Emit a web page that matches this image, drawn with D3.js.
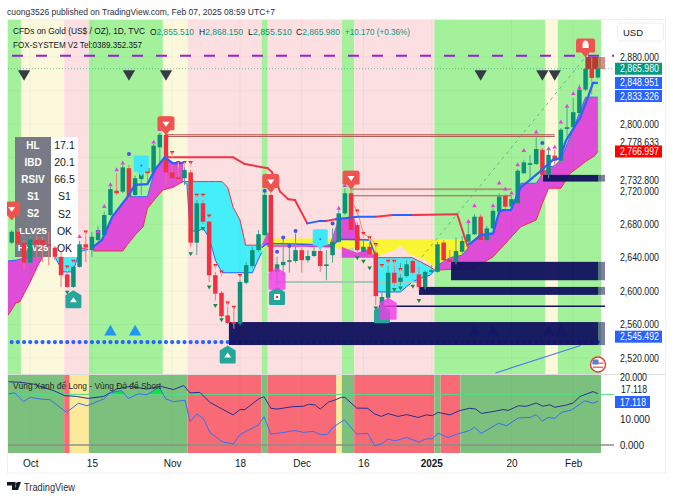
<!DOCTYPE html>
<html><head><meta charset="utf-8">
<script src="https://cdnjs.cloudflare.com/ajax/libs/d3/7.8.5/d3.min.js"></script>
<style>html,body{margin:0;padding:0;background:#fff}svg{display:block}text{font-family:"Liberation Sans",Arial,sans-serif}</style>
</head><body><svg id="c" width="673" height="499"></svg>
<script>
const opens=[2658,2671,2658,2634,2661,2661,2656,2652,2641,2620,2605,2629,2656,2649,2661,2667,2691,2720,2719,2747,2715,2734,2747,2742,2772,2787,2742,2736,2735,2742,2658,2705,2683,2619,2598,2571,2563,2561,2610,2630,2649,2667,2715,2623,2631,2635,2636,2649,2637,2642,2648,2630,2643,2659,2693,2717,2679,2647,2653,2646,2582,2592,2622,2611,2618,2636,2620,2605,2623,2623,2658,2638,2635,2647,2659,2668,2689,2661,2675,2695,2714,2701,2705,2741,2751,2752,2769,2739,2762,2756,2794,2796,2813,2841,2866,2855.51];
const closes=[2671,2656,2634,2662,2656,2655,2654,2641,2619,2605,2629,2656,2652,2665,2673,2691,2722,2717,2748,2713,2735,2746,2741,2774,2787,2742,2735,2734,2745,2658,2705,2683,2619,2597,2570,2562,2561,2611,2631,2649,2668,2715,2623,2632,2635,2637,2649,2637,2642,2648,2630,2632,2659,2693,2717,2673,2649,2653,2644,2594,2593,2622,2610,2616,2632,2622,2605,2623,2625,2656,2637,2635,2648,2660,2668,2689,2661,2675,2696,2713,2701,2710,2744,2754,2753,2770,2739,2763,2756,2793,2796,2814,2841,2866,2855,2865.98];
const highs=[2673,2675,2661,2666,2666,2665,2671,2654,2647,2623,2632,2660,2666,2671,2678,2695,2725,2741,2751,2751,2738,2748,2751,2776,2789,2789,2751,2753,2753,2745,2709,2709,2685,2623,2600,2581,2582,2614,2635,2653,2673,2719,2717,2641,2664,2655,2669,2652,2649,2658,2650,2649,2675,2697,2723,2726,2683,2661,2661,2649,2599,2631,2634,2634,2637,2638,2629,2625,2631,2659,2661,2649,2664,2666,2683,2692,2692,2678,2699,2717,2716,2713,2746,2757,2763,2784,2771,2769,2769,2795,2819,2831,2847,2882,2881,2868.15];
const lows=[2656,2654,2625,2632,2640,2635,2631,2637,2605,2604,2604,2628,2635,2641,2659,2665,2690,2715,2717,2709,2714,2715,2731,2741,2753,2727,2733,2731,2727,2653,2643,2680,2611,2589,2568,2561,2555,2559,2608,2628,2647,2666,2613,2607,2619,2622,2634,2622,2634,2641,2623,2613,2634,2658,2691,2671,2647,2644,2642,2583,2580,2586,2606,2607,2616,2620,2601,2602,2620,2622,2634,2632,2632,2644,2655,2667,2660,2660,2674,2693,2698,2690,2704,2740,2733,2751,2735,2735,2751,2754,2783,2772,2812,2839,2835,2854];

const mainEdges=[-0.6,1.5,8.5,12.5,24.5,28.5,40.5,41.5,53.5,55.5,68.5,86.5,88.5,95.5];
const mainKinds=["g","c","p","g","c","p","g","p","g","p","g","c","g"];
const subEdges=[-0.6,8.5,9.4,12.5,28.5,40.5,41.5,52.6,53.5,55.5,68.5,69.5,72.7,95.5];
const subKinds=["g","r","y","g","r","g","r","y","g","r","g","r","g"];

const priceTicks=[2880,2800,2778.633,2732.8,2720,2680,2640,2600,2560,2520];
const gridPrices=[2880,2840,2800,2760,2720,2680,2640,2600,2560,2520];
const timeTicks=[3,13,26,37,47,57,68,81,91];
const timeLabels=["Oct","15","Nov","18","Dec","16","2025","20","Feb"];
const badgeValues=[2865.98,2848.951,2833.326,2766.997,2545.492];
const badgeKinds=["up","line","line","down","line"];

// [index, upper, lower]
const magentaLeft=[[-0.6,2636,2571],[0.7,2637,2586],[1.3,2638,2587],[3,2641,2611],[4.2,2644,2630],[5,2650,2641],[5.6,2644,2644]];
const cyanLeft=[[7,2650,2641],[8.3,2652,2623],[9.9,2652,2623],[11,2652,2647],[12.4,2650,2650]];
const magentaMain=[[13.2,2653,2648],[14.6,2661,2648],[16.3,2689,2648],[18,2705,2648],[18.8,2713,2656],[20,2713,2667],[21.3,2713,2677],[22,2713,2699],[23.2,2745,2710],[24.5,2758,2721],[26.1,2753,2724],[27.8,2753,2731]];
const cyanMid=[[27.8,2731,2731],[28.4,2731,2728],[28.9,2731,2673],[30,2731,2671],[31,2731,2675],[32,2731,2664],[33,2731,2637],[34.1,2731,2622],[35,2724,2622],[35.9,2700,2622],[37,2685,2622],[37.9,2655,2622],[39,2655,2622],[39.9,2655,2637],[40.5,2655,2646]];
const yellowBand=[[37.9,2642,2637],[39.5,2652,2640],[40.5,2655,2649],[41.5,2663,2655],[52,2663,2655],[53.5,2662,2649],[56,2662,2653],[59,2662,2641],[62,2662,2649],[63,2662,2654],[64.5,2662,2644],[67,2662,2637],[68.6,2662,2629],[71,2662,2640],[73,2662,2643],[74.5,2661,2655]];
const magentaSmall=[[40.5,2655,2655],[41.5,2671,2655],[42.4,2660,2655]];
const magentaKnee=[[51.5,2655,2655],[53,2688,2661],[55.5,2688,2661],[56.5,2662,2661]];
const magentaLow=[[53.5,2653,2640],[54.5,2650,2640],[56,2646,2640],[57.5,2650,2640],[59,2641,2640]];
const cyanLow=[[59,2640,2640],[59.3,2640,2599],[63,2640,2599],[64.9,2640,2611],[66.5,2634,2616],[67.8,2629,2619],[68.6,2625,2625]];
const magentaRight=[[68.6,2629,2625],[71,2640,2626],[73,2643,2626],[75,2661,2626],[76,2667,2632],[78,2669,2641],[79,2695,2649],[80.5,2697,2661],[81,2697,2665],[82.5,2729,2677],[85,2729,2685],[86,2740,2705],[87,2748,2723],[88,2750,2723],[89,2757,2723],[90.5,2785,2741],[92,2813,2749],[93,2832,2755],[94.5,2832,2762],[95,2832,2767]];

// [index, price]
const fastLineA=[[13.2,2653],[14.6,2661],[16.3,2689],[18.8,2713],[20,2727],[22,2728],[23.2,2745],[24.8,2760],[26.1,2753],[27.8,2753]];
const fastLineB=[[73.9,2655],[75,2661],[76,2667],[78,2669],[79,2695],[79.6,2697],[80.9,2697],[82.5,2724],[84,2733],[85.3,2741],[87.7,2757],[88.9,2759],[89.8,2780],[92.1,2807],[93.4,2832],[94.2,2849],[95,2849]];
const midLine=[[40.5,2652],[41.4,2657],[47.2,2656],[52,2655],[53.2,2662],[58,2661],[59,2641]];
const pinkLine=[[41.4,2654],[47.2,2654],[52,2653]];
// [index, price, direction]
const trendLine=[[25,2760,-1],[35.9,2760,-1],[37.8,2752,-1],[41.5,2747,-1],[42.2,2742,-1],[43.5,2719,-1],[44.8,2710,-1],[45.9,2709,-1],[47.9,2681,-1],[50,2684,1],[51,2684,1],[52.5,2686,-1],[56,2689,1],[59,2689,1],[61.8,2691,-1],[65,2691,1],[72.2,2692,-1],[73.9,2653,-1]];

const bullMarks=[[11,2665],[14,2671],[15,2701],[16,2727],[17,2745],[18,2753],[23,2778],[24,2793],[53,2699],[54,2726],[74,2683],[75,2702],[78,2702],[79,2729],[80,2722],[81,2717],[82,2751],[83,2768],[85,2790],[87,2770],[88,2772],[89,2802],[90,2821],[91,2836],[92,2843]];
const bearMarks=[[9,2629],[10,2636],[12,2671],[26,2766],[27,2754],[28,2754],[29,2754],[30,2715],[31,2715],[32,2690],[33,2631],[34,2623],[35,2586],[36,2581],[37,2619],[56,2696],[57,2669],[58,2664],[59,2656],[60,2631],[61,2636],[62,2636],[63,2626]];
const lowMarks=[[9,2599],[29,2645],[31,2675],[32,2605],[33,2583],[34,2566],[56,2640],[57,2636],[58,2628],[59,2580],[62,2602],[63,2604],[65,2606],[66,2589]];
const dotMarks=[[19,2764],[41,2720],[43,2647],[44,2664],[45,2654],[46,2672],[52,2681],[86,2777]];
const zigzag=[[54.9,2709],[56,2696],[57,2669],[58,2664],[59,2656]];

const upArrows=[[16,2550],[20,2550],[75,2550],[78,2550],[87,2550],[89,2550]];
const downArrows=[[2,2866],[19,2866],[25,2866],[76,2866],[86,2866],[88,2866]];
const supportDots=d3.range(0,96);
const supportLevel=2539;

const redFlags=[[0,2685],[25,2787],[42,2718],[55,2722],[93,2880]];
const tealFlags=[[10,2601],[35,2535],[43,2605],[60,2583]];
const pinkFlags=[[43,2628],[61,2592]];
const cyanFlags=[[21,2737],[50,2649]];

// [startIndex, top, bottom]
const zoneBoxes=[[35.2,2563,2535.5],[71.2,2635,2613],[66,2605,2595.5],[86.1,2739,2731]];
const zoneRed=[[93,2880,2865.5]];
const thinZone=[[59.5,2582]];
const brownLines=[[25,2787],[25,2785],[55,2722],[55,2714]];
const brownEnds=[88,88,81,81];
const tealLevel=[[43,2611]];
const tealLevelEnd=66;
const dashedDiag=[[66.5,2641],[93,2880]];
const blueDiag=[[78.4,2502],[92.2,2535]];
const purpleLevel=2881.5;
const lastClose=2865.98;

const tableKeys=["HL","IBD","RSIV","S1","S2","LLV25","HHV25"];
const tableVals=["17.1","20.1","66.5","S1","S2","OK","OK"];

// indicator [index, value]
const darkOsc=[[-0.5,25],[1.4,24.8],[3.5,24.1],[5.1,22.8],[6.8,21.5],[8.6,19.5],[10.5,19.2],[12.4,18.4],[14.9,19.2],[17,22.1],[19.2,23.2],[21.9,22.1],[24.1,23.2],[26.2,21.9],[27.9,23.5],[28.9,20.6],[30.5,20.8],[32.1,16.9],[34.1,14.2],[35.9,11.9],[37,14],[37.8,14],[40,18.2],[40.9,19.1],[42,14.5],[43,14.2],[45.7,15.2],[47.3,15.3],[48.1,16.1],[49.2,15.8],[50,14.2],[51.4,17.1],[52.1,17.5],[53.4,18.8],[54,18.8],[55.9,14.6],[57.7,14.5],[58.8,12.3],[59.9,11.3],[61,12.4],[62.6,11.3],[64,12],[65.9,10.9],[67.2,11.9],[68.2,11.6],[69.1,12.9],[71,11.9],[72.6,13.6],[74.2,14.5],[75.2,14.2],[76.1,12.5],[78,13.2],[79.6,14],[80.5,13.7],[82.1,15.5],[83.4,15.3],[85,16.6],[86.1,15.3],[87.2,15.9],[88,14.9],[89.9,15.8],[91,16.6],[92.1,19.2],[93.2,20.2],[94.2,21.1],[95,20.3]];
const blueOsc=[[-0.5,20.2],[0.5,20.6],[1.9,17.1],[3,18.8],[4.6,18.2],[6.2,17.9],[8.9,12.9],[10.8,16.5],[12.2,15.5],[14.9,18.2],[15.9,20.6],[17.8,21.5],[18.9,18.4],[20.5,20.2],[21.9,19.9],[23.9,22.8],[25,18.2],[26.2,17.1],[28.1,17.7],[28.9,9.2],[30,12.3],[31.1,10.3],[32.1,5],[34.1,1.3],[35.9,0.4],[37,4.1],[40,8],[40.9,11.2],[42,4.3],[44.1,5],[45.9,5.7],[47.3,5],[48.9,5.4],[50,4.1],[51.1,4.1],[52.1,7],[53.9,10],[55.9,4.3],[57.7,4.6],[58.8,-0.3],[59.9,0.4],[61,2.4],[62.1,1.6],[64,3],[66,1.1],[67.1,2.4],[68.2,2.4],[69.1,4.7],[70.7,3],[72.6,4.6],[74.2,5.7],[75,7],[76.1,4.6],[78.9,8.6],[80.2,7.6],[82.1,10.7],[84,10.9],[85,12],[86,9.4],[86.9,10.9],[88,10.5],[89.1,12.9],[90.7,13.8],[92.9,17.5],[94.2,16.5],[95,17.3]];
const oscLevels=[20,0];

const svg=d3.select("#c");
const x=d3.scaleLinear().domain([-0.6,95.5]).range([8,601]);
const y=d3.scaleLinear().domain([2520,2880]).range([358,57]);
const yi=d3.scaleLinear().domain([0,20]).range([445,394.4]);
const mainColors={g:"#a3f19b",c:"#fcf8dc",p:"#fcdfe0"};
const subColors={g:"#7cc07e",r:"#f86b76",y:"#fde99a"};
const UP="#0b9178",DOWN="#f2303f",BLUE="#2962ff",NAVY="#12135f",INK="#131722";

const defs=svg.append("defs");
defs.append("clipPath").attr("id","mainClip").append("rect").attr("x",7.5).attr("y",20).attr("width",610).attr("height",354.5);
defs.append("clipPath").attr("id","above").append("rect").attr("x",0).attr("y",370).attr("width",620).attr("height",yi(20)-370);

function text(g,s,px,py,o={}){
  const t=g.append("text").attr("x",px).attr("y",py).text(s).attr("font-size",o.size||9.5).attr("fill",o.fill||INK)
    .attr("text-anchor",o.anchor||"start").attr("dominant-baseline","central");
  if(o.w)t.attr("textLength",o.w).attr("lengthAdjust","spacingAndGlyphs");
  if(o.weight)t.attr("font-weight",o.weight);
  return t;
}
function ohlc(g,k,v,px,py,w){
  const t=g.append("text").attr("x",px).attr("y",py).attr("font-size",9.5).attr("fill",INK).attr("dominant-baseline","central")
    .attr("textLength",w).attr("lengthAdjust","spacingAndGlyphs");
  t.append("tspan").text(k);
  t.append("tspan").attr("fill","#089981").text(v);
}

// frame
svg.append("rect").attr("x",7.5).attr("y",19.5).attr("width",658).attr("height",453.5).attr("fill","#fff").attr("stroke","#efefef");

// bands
const main=svg.append("g").attr("clip-path","url(#mainClip)");
main.selectAll(".band").data(mainKinds).join("rect")
  .attr("x",(d,i)=>x(mainEdges[i])).attr("width",(d,i)=>x(mainEdges[i+1])-x(mainEdges[i]))
  .attr("y",20).attr("height",355).attr("fill",d=>mainColors[d]);
main.selectAll(".gh").data(gridPrices).join("line").attr("x1",8).attr("x2",602).attr("y1",d=>y(d)).attr("y2",d=>y(d)).attr("stroke","#000").attr("stroke-opacity",.035);
const gridV=svg.append("g");
gridV.selectAll("line").data(timeTicks).join("line").attr("x1",d=>x(d)).attr("x2",d=>x(d)).attr("y1",20).attr("y2",453).attr("stroke","#000").attr("stroke-opacity",.035);

// clouds
const area=d3.area().x(d=>x(d[0])).y0(d=>y(d[2])).y1(d=>y(d[1]));
const lineU=d3.line().x(d=>x(d[0])).y(d=>y(d[1]));
const lineL=d3.line().x(d=>x(d[0])).y(d=>y(d[2]));
const line2=d3.line().x(d=>x(d[0])).y(d=>y(d[1]));
function cloud(data,fill,edgeU,edgeL){
  main.append("path").attr("d",area(data)).attr("fill",fill);
  if(edgeU)main.append("path").attr("d",lineU(data)).attr("fill","none").attr("stroke",edgeU).attr("stroke-width",1);
  if(edgeL)main.append("path").attr("d",lineL(data)).attr("fill","none").attr("stroke",edgeL).attr("stroke-width",1);
}
const MAG="#de4cd8",CYA="#45eff9",YEL="#f9f532";
cloud(yellowBand,YEL);
cloud(magentaLeft,MAG,BLUE,"#f0304a");
cloud(cyanLeft,CYA,"#f0304a",BLUE);
cloud(magentaMain,MAG,"#3b6ff0","#f0304a");
cloud(cyanMid,CYA,"#f0304a",BLUE);
cloud(magentaSmall,MAG);
cloud(magentaKnee,MAG);
cloud(magentaLow,MAG);
cloud(cyanLow,CYA,"#f0304a",BLUE);
cloud(magentaRight,MAG,"#3b6ff0","#f0304a");
main.append("path").attr("d",line2(midLine)).attr("fill","none").attr("stroke",BLUE).attr("stroke-width",1.5);
main.append("path").attr("d",line2(pinkLine)).attr("fill","none").attr("stroke","#f02fb0").attr("stroke-width",1.5);

main.selectAll(".sd").data(supportDots).join("circle").attr("cx",d=>x(d)).attr("cy",y(supportLevel)).attr("r",2.1).attr("fill",BLUE);
const tri=d3.symbol(d3.symbolTriangle,66);
main.selectAll(".ua").data(upArrows).join("path").attr("d",tri).attr("fill","#2196f3").attr("transform",d=>`translate(${x(d[0])},${y(d[1])-1})`);

// table
const tb=svg.append("g");
tb.append("rect").attr("x",15).attr("y",137).attr("width",36).attr("height",120).attr("fill","#787b86");
tb.append("rect").attr("x",51).attr("y",137).attr("width",27).attr("height",120).attr("fill","#fff");
tableKeys.forEach((k,i)=>{
  text(tb,k,33,145+i*17.15,{anchor:"middle",fill:"#fff",size:k.length>4?9.5:10,weight:700});
  text(tb,tableVals[i],64.5,145+i*17.15,{anchor:"middle",size:10.5});
});

// zones
function zoneRight(g,d,color){
  g.append("rect").attr("x",x(d[0])).attr("width",598-x(d[0])).attr("y",y(d[1])).attr("height",y(d[2])-y(d[1])).attr("fill",color).attr("fill-opacity",.96);
  g.append("rect").attr("x",598).attr("width",7).attr("y",y(d[1])).attr("height",y(d[2])-y(d[1])).attr("fill",color).attr("fill-opacity",.55);
}
zoneBoxes.forEach(d=>zoneRight(main,d,NAVY));
thinZone.forEach(d=>{main.append("line").attr("x1",x(d[0])).attr("x2",605).attr("y1",y(d[1])).attr("y2",y(d[1])).attr("stroke",NAVY).attr("stroke-width",1.5);});
brownLines.forEach((d,i)=>{
  main.append("line").attr("x1",x(d[0])).attr("x2",x(brownEnds[i])).attr("y1",y(d[1])).attr("y2",y(d[1])).attr("stroke","#b0554f").attr("stroke-width",1);
});
tealLevel.forEach(d=>{main.append("line").attr("x1",x(d[0])).attr("x2",x(tealLevelEnd)).attr("y1",y(d[1])).attr("y2",y(d[1])).attr("stroke","#a9c9b8").attr("stroke-width",2);});
main.append("path").attr("d",line2(zigzag)).attr("fill","none").attr("stroke","#f08a80").attr("stroke-width",1);
main.append("path").attr("d",line2(dashedDiag)).attr("fill","none").attr("stroke","#4aa78f").attr("stroke-width",.8).attr("stroke-dasharray","3 4");
main.append("path").attr("d",line2(blueDiag)).attr("fill","none").attr("stroke","#4f7fe8").attr("stroke-width",1.2);

// candles
const cg=svg.append("g");
const candles=opens.map((o,i)=>({i,o,c:closes[i],h:highs[i],l:lows[i]}));
const isUp=d=>d.c>=d.o;
cg.selectAll(".w").data(candles).join("line").attr("x1",d=>x(d.i)).attr("x2",d=>x(d.i)).attr("y1",d=>y(d.h)).attr("y2",d=>y(d.l))
  .attr("stroke",d=>isUp(d)?"#4fa595":"#f4747c").attr("stroke-width",1);
cg.selectAll(".b").data(candles).join("rect").attr("x",d=>x(d.i)-2.25).attr("width",4.5)
  .attr("y",d=>y(Math.max(d.o,d.c))).attr("height",d=>Math.max(1.5,Math.abs(y(d.o)-y(d.c))))
  .attr("fill",d=>isUp(d)?UP:DOWN);

zoneRed.forEach(d=>zoneRight(main.append("g"),d,"#b5322c"));

// main lines
const thick=svg.append("g");
[fastLineA,fastLineB].forEach(s=>thick.append("path").attr("d",line2(s)).attr("fill","none").attr("stroke",BLUE).attr("stroke-width",2.2));
for(let i=1;i<trendLine.length;i++){
  thick.append("path").attr("d",line2([trendLine[i-1],trendLine[i]])).attr("fill","none")
   .attr("stroke",trendLine[i][2]<0?"#f0344a":BLUE).attr("stroke-width",2).attr("stroke-linecap","round");
}
// marks
const small=d3.symbol(d3.symbolTriangle,9);
const g2=svg.append("g");
g2.selectAll(".m").data(bullMarks).join("path").attr("d",small).attr("fill","#e63fe6").attr("transform",d=>`translate(${x(d[0])},${y(d[1])})`);
const bearG=g2.selectAll(".br").data(bearMarks).join("g").attr("transform",d=>`translate(${x(d[0])},${y(d[1])})`);
bearG.append("path").attr("d",small).attr("transform","rotate(180)").attr("fill","#f0282d");
bearG.append("line").attr("y1",0).attr("y2",5).attr("stroke","#f4aeb0");
g2.selectAll(".lw").data(lowMarks).join("path").attr("d",small).attr("fill","#13903f").attr("transform",d=>`translate(${x(d[0])},${y(d[1])}) rotate(180)`);
g2.selectAll(".dt").data(dotMarks).join("circle").attr("cx",d=>x(d[0])).attr("cy",d=>y(d[1])).attr("r",2).attr("fill","#4a50ee");
g2.selectAll(".da").data(downArrows).join("path").attr("d",tri).attr("fill","#363a45").attr("transform",d=>`translate(${x(d[0])},${y(d[1])+5}) rotate(180)`);

// levels
svg.append("line").attr("x1",12).attr("x2",614).attr("y1",y(purpleLevel)).attr("y2",y(purpleLevel)).attr("stroke","#9c1fd0").attr("stroke-width",1.8).attr("stroke-dasharray","11 13");
svg.append("line").attr("x1",8).attr("x2",614).attr("y1",y(lastClose)).attr("y2",y(lastClose)).attr("stroke","#089981").attr("stroke-opacity",.7).attr("stroke-width",.8).attr("stroke-dasharray","1 2");

// flags
function downFlag(px,py,w,h){
  const t=py-h-5;
  return `M${px-w/2},${t+1.5}q0,-1.5 1.5,-1.5h${w-3}q1.5,0 1.5,1.5v${h-1.5}h${-(w/2-4)}l-4,5l-4,-5h${-(w/2-4)}z`;
}
function upFlag(px,py,w,h){
  return `M${px},${py}l${w/2},${5}v${h-1.5}q0,1.5 -1.5,1.5h${-(w-3)}q-1.5,0 -1.5,-1.5v${-(h-1.5)}z`;
}
const fg=svg.append("g");
tealFlags.forEach(d=>{
  const px=x(d[0]),py=y(d[1]);
  fg.append("path").attr("d",upFlag(px,py,16,13)).attr("fill","#26a69a");
  if(d[0]!==60){
    if(d[0]===43){fg.append("rect").attr("x",px-3).attr("y",py+7).attr("width",6).attr("height",6).attr("fill","#fff");fg.append("circle").attr("cx",px).attr("cy",py+10).attr("r",1.2).attr("fill","#e0306a");}
    else fg.append("path").attr("d",`M${px-3.5},${py+12}h7l-3.5,-5z`).attr("fill","#fff");
  }
});
pinkFlags.forEach(d=>{
  const px=x(d[0]),py=y(d[1]);
  fg.append("path").attr("d",upFlag(px,py,17,17)).attr("fill","#ee3ee8").attr("fill-opacity",.82);
});
redFlags.forEach(d=>{
  const px=x(d[0]),py=y(d[1]);
  const w=d[0]===93?18:16;
  fg.append("path").attr("d",downFlag(px,py,w,13)).attr("fill","#ef5350").attr("stroke","#ef5350");
  if(d[0]===93){
    fg.append("rect").attr("x",px-3).attr("y",py-14).attr("width",6).attr("height",5).attr("fill","#fff");
    fg.append("circle").attr("cx",px).attr("cy",py-14).attr("r",2.5).attr("fill","#fff");
  }else fg.append("path").attr("d",`M${px-3.5},${py-13}h7l-3.5,5z`).attr("fill","#fff");
});
cyanFlags.forEach(d=>{
  fg.append("path").attr("d",downFlag(x(d[0]),y(d[1]),15,16)).attr("fill","#3ee8fa");
  fg.append("circle").attr("cx",x(d[0])).attr("cy",y(d[1])-11).attr("r",1).attr("fill","#3a67d8");
});
svg.append("rect").attr("x",0).attr("y",195).attr("width",7).attr("height",30).attr("fill","#fff");

// us flag
const fl=svg.append("g").attr("transform","translate(598,364.5)");
fl.append("circle").attr("r",7.5).attr("fill","#fff").attr("stroke","#e53935").attr("stroke-width",1.4);
fl.append("rect").attr("x",-5.5).attr("y",-2).attr("width",11).attr("height",1.5).attr("fill","#e57373");
fl.append("rect").attr("x",-5).attr("y",2).attr("width",10).attr("height",1.5).attr("fill","#e57373");
fl.append("rect").attr("x",-5.5).attr("y",-5).attr("width",6).attr("height",5).attr("fill","#5c7fd0");

// indicator
const sub=svg.append("g");
sub.selectAll(".sb").data(subKinds).join("rect")
 .attr("x",(d,i)=>x(subEdges[i])).attr("width",(d,i)=>x(subEdges[i+1])-x(subEdges[i]))
 .attr("y",375).attr("height",78).attr("fill",d=>subColors[d]);
sub.append("line").attr("x1",8).attr("x2",665).attr("y1",374.5).attr("y2",374.5).attr("stroke","#dcdcdc");
sub.selectAll(".gv").data(timeTicks).join("line").attr("x1",d=>x(d)).attr("x2",d=>x(d)).attr("y1",375).attr("y2",453).attr("stroke","#000").attr("stroke-opacity",.03);
const oscX=d=>x(d[0]),oscY=d=>yi(d[1]);
sub.append("path").attr("clip-path","url(#above)")
 .attr("d",d3.area().x(oscX).y0(yi(20)).y1(oscY)(blueOsc)).attr("fill","#06e63c");
sub.selectAll(".lv").data(oscLevels).join("line").attr("x1",8).attr("x2",614).attr("y1",d=>yi(d)).attr("y2",d=>yi(d))
 .attr("stroke",d=>d?"#57d98a":"#8b8f8b").attr("stroke-width",d=>d?1:1.4);
const ln=d3.line().x(oscX).y(oscY);
sub.append("path").attr("d",ln(darkOsc)).attr("fill","none").attr("stroke","#2a2f8f").attr("stroke-width",1);
sub.append("path").attr("d",ln(blueOsc)).attr("fill","none").attr("stroke","#3a6ff0").attr("stroke-width",1);
text(sub,"Vùng Xanh để Long - Vùng Đỏ để Short",13,385,{size:9.5,w:148,fill:"#1d2a22"});

// axes
const fmt=d3.format(",.3f");
const yAxis=svg.append("g").attr("transform","translate(614,0)")
 .call(d3.axisRight(y).tickValues(priceTicks).tickSize(0).tickPadding(6).tickFormat(fmt));
yAxis.select(".domain").remove();
yAxis.selectAll("text").attr("font-size",10.2).attr("fill",INK).style("font-family",'"Liberation Sans"').attr("textLength",39).attr("lengthAdjust","spacingAndGlyphs");
const iAxis=svg.append("g").attr("transform","translate(614,0)")
 .call(d3.axisRight(yi).tickValues([10,0]).tickSize(0).tickPadding(6).tickFormat(fmt));
iAxis.select(".domain").remove();
iAxis.selectAll("text").attr("font-size",10.2).attr("fill",INK).style("font-family",'"Liberation Sans"').attr("textLength",d=>d?30:24).attr("lengthAdjust","spacingAndGlyphs");
text(svg,"20.000",620,377.5,{size:10.2,w:27});
text(svg,"17.118",621,389,{size:10.2,w:26});
const tAxis=svg.append("g").attr("transform","translate(0,453)")
 .call(d3.axisBottom(x).tickValues(timeTicks).tickSize(0).tickPadding(7).tickFormat((d,i)=>timeLabels[i]));
tAxis.select(".domain").remove();
tAxis.selectAll("text").attr("font-size",10).attr("fill",INK).style("font-family",'"Liberation Sans"').attr("font-weight",(d,i)=>timeLabels[i]==="2025"?700:400);

// badges
const badgeColor={up:"#089981",line:"#2962ff",down:"#ff0000"};
badgeValues.forEach((v,i)=>{
  svg.append("rect").attr("x",615).attr("y",y(v)-6).attr("width",47).attr("height",12).attr("fill",badgeColor[badgeKinds[i]]);
  text(svg,fmt(v),620,y(v),{size:10.2,fill:"#fff",w:39});
});
svg.append("rect").attr("x",615).attr("y",396).attr("width",35).attr("height",12).attr("fill","#2962ff");
text(svg,"17.118",620,402,{size:10.2,fill:"#fff",w:26});
svg.append("rect").attr("x",617.5).attr("y",23).attr("width",46).attr("height",18).attr("rx",3).attr("fill","#fff").attr("stroke","#eee");
text(svg,"USD",623,32,{size:9.5});

// header
text(svg,"cuong3526 published on TradingView.com, Feb 07, 2025 08:59 UTC+7",7,11,{size:9.5,w:268,fill:"#2a2e39"});
text(svg,"CFDs on Gold (US$ / OZ), 1D, TVC",13,31,{size:8.8,w:132});
ohlc(svg,"O","2,855.510",150,31,44);
ohlc(svg,"H","2,868.150",199,31,44);
ohlc(svg,"L","2,855.510",248,31,44);
ohlc(svg,"C","2,865.980",296,31,44);
text(svg,"+10.170 (+0.36%)",345,31,{size:9.5,w:65,fill:"#089981"});
text(svg,"FOX-SYSTEM V2 Tel:0389.352.357",13,44,{size:9.5,w:129});

// footer
const lg=svg.append("g").attr("fill","#131722");
lg.append("path").attr("d","M7,482h8.5v8h-3.5v-4.6h-5z");
lg.append("circle").attr("cx",17).attr("cy",484).attr("r",1.6);
lg.append("path").attr("d","M18,490l3,-8h-3.5l-3,8z");
text(svg,"TradingView",24,486.5,{size:10.5,w:51,fill:"#2a2e39"});
</script></body></html>
